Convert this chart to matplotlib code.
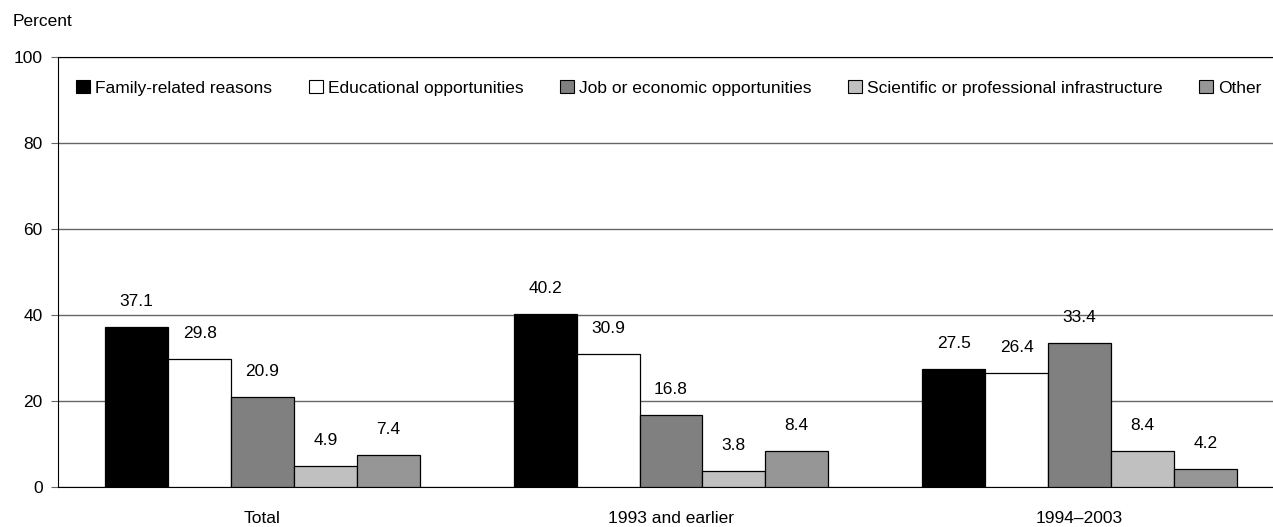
import matplotlib
matplotlib.use("Agg")
import matplotlib.pyplot as plt
import numpy as np
from matplotlib.patches import Patch

plt.rcParams['font.family'] = ['Liberation Sans Narrow', 'Liberation Sans', 'DejaVu Sans']

categories = ["Total", "1993 and earlier", "1994\u20132003"]
series = ["Family-related reasons", "Educational opportunities",
          "Job or economic opportunities",
          "Scientific or professional infrastructure", "Other"]
family = [37.1, 40.2, 27.5]
education = [29.8, 30.9, 26.4]
job = [20.9, 16.8, 33.4]
science = [4.9, 3.8, 8.4]
other = [7.4, 8.4, 4.2]
values = [family, education, job, science, other]
colors = ["#000000", "#ffffff", "#808080", "#c0c0c0", "#969696"]
yticks = [0, 20, 40, 60, 80, 100]

FS = 12.5
fig = plt.figure(figsize=(12.73, 5.27), dpi=100)
ax = fig.add_axes([58/1273, 1-487/527, 1-58/1273, 430/527])

x = np.arange(len(categories))
w = 0.154
for i, (vals, c) in enumerate(zip(values, colors)):
    pos = x + (i - 2) * w
    bars = ax.bar(pos, vals, width=w, color=c, edgecolor="black", linewidth=0.9, zorder=3)
    for b, v in zip(bars, vals):
        ax.annotate(f"{v:.1f}", (b.get_x() + b.get_width()/2, v),
                    xytext=(0, 13), textcoords="offset points",
                    ha="center", va="bottom", fontsize=FS)

ax.set_xlim(-0.5006, 2.4737)
ax.set_ylim(0, 100)
ax.set_yticks(yticks)
ax.set_yticklabels([str(t) for t in yticks], fontsize=FS)
ax.yaxis.grid(True, color="#666666", linewidth=1.0, zorder=0)
ax.tick_params(axis="y", length=5, color="#666666", pad=6)
ax.set_xticks(x)
ax.set_xticklabels(categories, fontsize=FS)
ax.tick_params(axis="x", length=0, pad=17)
ax.spines["right"].set_visible(False)
for s in ["top", "left", "bottom"]:
    ax.spines[s].set_color("black")

handles = [Patch(facecolor=c, edgecolor="black", linewidth=0.8) for c in colors]
ax.legend(handles, series, loc="upper left", bbox_to_anchor=(6/1215, 0.975), ncol=5,
          frameon=False, fontsize=FS, handlelength=0.8, handleheight=0.8,
          handletextpad=0.3, columnspacing=2.1, borderaxespad=0.3)

fig.text(13/1273, 1-21/527, "Percent", fontsize=FS, ha="left", va="center")

fig.savefig("out.png", dpi=100)
